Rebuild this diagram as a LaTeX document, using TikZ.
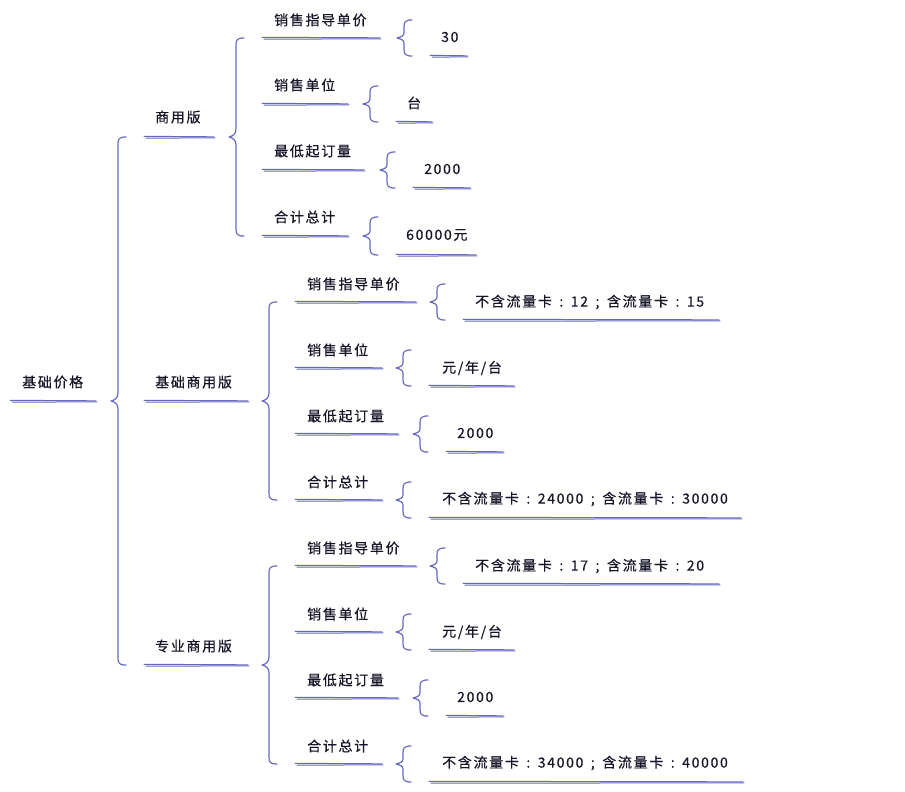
\documentclass[tikz,border=0pt]{standalone}
\usepackage{fontspec}
\setmainfont{Noto Sans CJK SC}[LetterSpace=12,FakeBold=0.4]
\usetikzlibrary{calc}
\definecolor{txt}{RGB}{22,22,40}
\definecolor{lin}{RGB}{104,104,190}
\newcommand\mmcolon{\hbox to 1.35em{\hss:\hss}}
\newcommand\mmsemi{\hbox to 1.35em{\hss;\hss}}
\tikzset{
  lbl/.style={anchor=west, inner sep=0pt, font=\fontsize{14}{16}\selectfont, text=txt},
  uline/.style={draw=lin, line width=1pt, line cap=round},
  bracestyle/.style={draw=lin, line width=1.2pt, line join=round, line cap=round},
}
% name, text x, text y, underline x1, underline x2, underline y, text
\newcommand\mmitem[7]{%
  \node[lbl] (#1) at (#2,#3) {#7};
  \coordinate (#1-l) at (#4,#6);
  \coordinate (#1-r) at (#5,#6);
  \draw[uline] (#4,#6-0.7) -- (#5,#6-0.2);
  \draw[uline] (#4+2,#6+1.1) -- (#5+1,#6+0.9);
}
% brace from parent to first..last children
\newcommand\mmbrace[3]{%
  \draw[bracestyle] let \p1=(#1-r), \p2=(#2-l), \p3=(#3-l) in
    ({\x2-18pt},{\y2}) .. controls ({\x2-25pt},{\y2}) and ({\x2-26pt},{\y2-2pt}) .. ({\x2-26pt},{\y2-7pt})
    -- ({\x2-26pt},{\y1+8pt}) .. controls ({\x2-26pt},{\y1+3pt}) and ({\x2-29pt},{\y1+1pt}) .. ({\x2-33pt},{\y1})
    .. controls ({\x2-29pt},{\y1-1pt}) and ({\x2-26pt},{\y1-3pt}) .. ({\x2-26pt},{\y1-8pt})
    -- ({\x2-26pt},{\y3+7pt}) .. controls ({\x2-26pt},{\y3+2pt}) and ({\x2-25pt},{\y3}) .. ({\x2-18pt},{\y3});
}
% brace from parent to a single child (symmetric)
\newcommand\mmbraceone[2]{%
  \draw[bracestyle] let \p1=(#1-r), \p2=(#2-l) in
    ({\x2-18pt},{2*\y1-\y2}) .. controls ({\x2-25pt},{2*\y1-\y2}) and ({\x2-26pt},{2*\y1-\y2-2pt}) .. ({\x2-26pt},{2*\y1-\y2-7pt})
    -- ({\x2-26pt},{\y1+5pt}) .. controls ({\x2-26pt},{\y1+2pt}) and ({\x2-29pt},{\y1+1pt}) .. ({\x2-33pt},{\y1})
    .. controls ({\x2-29pt},{\y1-1pt}) and ({\x2-26pt},{\y1-2pt}) .. ({\x2-26pt},{\y1-5pt})
    -- ({\x2-26pt},{\y2+7pt}) .. controls ({\x2-26pt},{\y2+2pt}) and ({\x2-25pt},{\y2}) .. ({\x2-18pt},{\y2});
}
\begin{document}
\begin{tikzpicture}[x=1pt,y=-1pt]
\fill[white] (0,0) rectangle (905,792);
\useasboundingbox (0,0) rectangle (905,792);
% root and level 1
\mmitem{r0}{22}{382}{10}{96}{401}{基础价格}
\mmitem{A}{155}{117}{144}{214}{137}{商用版}
\mmitem{B}{155}{382}{144}{248}{401}{基础商用版}
\mmitem{C}{155}{646}{144}{248}{665}{专业商用版}
\mmbrace{r0}{A}{C}
% A
\mmitem{a1}{274}{20}{262}{380}{38}{销售指导单价}
\mmitem{a2}{274}{85}{262}{348}{104}{销售单位}
\mmitem{a3}{274}{151}{262}{364}{170}{最低起订量}
\mmitem{a4}{274}{217}{262}{348}{236}{合计总计}
\mmbrace{A}{a1}{a4}
\mmitem{a1v}{441}{37}{430}{467}{56}{30}
\mmitem{a2v}{407}{103}{396}{432}{122}{台}
\mmitem{a3v}{424}{169}{413}{470}{188}{2000}
\mmitem{a4v}{406}{235}{396}{476}{255}{60000元}
\mmbraceone{a1}{a1v}
\mmbraceone{a2}{a2v}
\mmbraceone{a3}{a3v}
\mmbraceone{a4}{a4v}
% B
\mmitem{b1}{307}{284}{295}{416}{302}{销售指导单价}
\mmitem{b2}{307}{350}{295}{382}{368}{销售单位}
\mmitem{b3}{307}{416}{295}{398}{434}{最低起订量}
\mmitem{b4}{307}{482}{295}{382}{500}{合计总计}
\mmbrace{B}{b1}{b4}
\mmitem{b1v}{475}{302}{463}{719}{320}{不含流量卡\mmcolon{}12\mmsemi{}含流量卡\mmcolon{}15}
\mmitem{b2v}{442}{368}{429}{514}{386}{元/年/台}
\mmitem{b3v}{457}{433}{446}{503}{452}{2000}
\mmitem{b4v}{442}{499}{429}{741}{518}{不含流量卡\mmcolon{}24000\mmsemi{}含流量卡\mmcolon{}30000}
\mmbraceone{b1}{b1v}
\mmbraceone{b2}{b2v}
\mmbraceone{b3}{b3v}
\mmbraceone{b4}{b4v}
% C
\mmitem{c1}{307}{548}{295}{416}{566}{销售指导单价}
\mmitem{c2}{307}{614}{295}{382}{632}{销售单位}
\mmitem{c3}{307}{680}{295}{398}{698}{最低起订量}
\mmitem{c4}{307}{746}{295}{382}{764}{合计总计}
\mmbrace{C}{c1}{c4}
\mmitem{c1v}{475}{566}{463}{719}{584}{不含流量卡\mmcolon{}17\mmsemi{}含流量卡\mmcolon{}20}
\mmitem{c2v}{442}{632}{429}{514}{650}{元/年/台}
\mmitem{c3v}{457}{697}{446}{503}{716}{2000}
\mmitem{c4v}{442}{763}{429}{743}{782}{不含流量卡\mmcolon{}34000\mmsemi{}含流量卡\mmcolon{}40000}
\mmbraceone{c1}{c1v}
\mmbraceone{c2}{c2v}
\mmbraceone{c3}{c3v}
\mmbraceone{c4}{c4v}
\end{tikzpicture}
\end{document}
